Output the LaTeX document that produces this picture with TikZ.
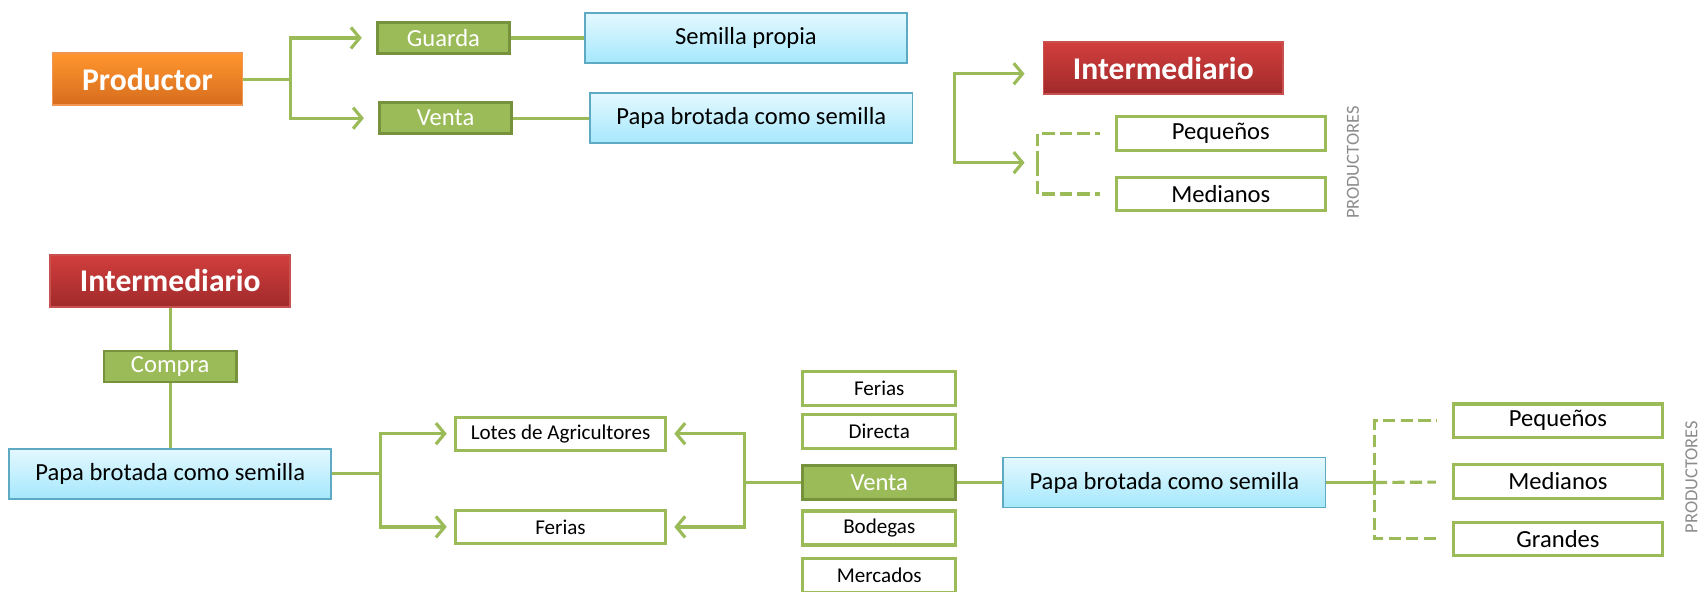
\documentclass[tikz,border=0pt]{standalone}
\usepackage{fontspec}
\setmainfont{Carlito}
\usetikzlibrary{arrows.meta}

\definecolor{leaf}{RGB}{155,187,89}
\definecolor{leafdark}{RGB}{118,146,60}
\definecolor{orangetop}{RGB}{255,150,45}
\definecolor{orangebot}{RGB}{215,108,30}
\definecolor{orangeedge}{RGB}{240,150,80}
\definecolor{redtop}{RGB}{210,62,62}
\definecolor{redbot}{RGB}{160,42,42}
\definecolor{rededge}{RGB}{200,80,78}
\definecolor{skytop}{RGB}{228,248,255}
\definecolor{skybot}{RGB}{165,232,252}
\definecolor{skyedge}{RGB}{95,170,195}

\begin{document}
\begin{tikzpicture}[x=0.0217cm,y=-0.0217cm]
\tikzset{
  headbox/.style={rectangle,line width=1pt,minimum height=1.04cm,inner sep=1pt,text=white,font=\fontsize{18}{20}\selectfont\bfseries},
  prodbox/.style={headbox,draw=orangeedge,top color=orangetop,bottom color=orangebot,minimum width=3.80cm},
  interbox/.style={headbox,draw=rededge,top color=redtop,bottom color=redbot,minimum width=4.80cm},
  actbox/.style={rectangle,draw=leafdark,fill=leaf,line width=1.6pt,minimum width=2.65cm,minimum height=0.62cm,inner sep=1pt,text=white,font=\fontsize{14}{16}\selectfont},
  seedbox/.style={rectangle,draw=skyedge,top color=skytop,bottom color=skybot,line width=1pt,minimum width=6.45cm,minimum height=1.0cm,inner sep=1pt,font=\fontsize{14}{16}\selectfont},
  sizebox/.style={rectangle,draw=leaf,fill=white,line width=1.8pt,minimum width=4.19cm,minimum height=0.67cm,inner sep=1pt,font=\fontsize{14}{16}\selectfont},
  placebox/.style={rectangle,draw=leaf,fill=white,line width=1.8pt,minimum width=4.21cm,minimum height=0.66cm,inner sep=1pt,font=\fontsize{12}{14}\selectfont},
  outletbox/.style={placebox,minimum width=3.06cm,minimum height=0.68cm},
  link/.style={draw=leaf,line width=1.8pt,line cap=butt,line join=miter},
  arrowlink/.style={link,-{Straight Barb[length=5pt,width=12pt]}},
  arrowboth/.style={link,{Straight Barb[length=5pt,width=12pt]}-{Straight Barb[length=5pt,width=12pt]}},
  sizelink/.style={link,dash pattern=on 7pt off 3pt},
  sidelabel/.style={rotate=90,text=black!45,font=\fontsize{10.5}{12}\selectfont}
}
\useasboundingbox (0,0) rectangle (1568,546);
\node[prodbox] (n_prod) at (136,73) {Productor};
\node[actbox] (n_guarda) at (409,35) {Guarda};
\node[actbox] (n_venta1) at (411,109) {Venta};
\node[seedbox] (n_propia) at (688,35) {Semilla propia};
\node[seedbox] (n_papa1) at (693,109) {Papa brotada como semilla};
\node[interbox] (n_inter1) at (1073,63) {Intermediario};
\node[sizebox] (n_peq1) at (1126,123) {Pequeños};
\node[sizebox] (n_med1) at (1126,179) {Medianos};
\node[sidelabel] (n_lab1) at (1248,150) {PRODUCTORES};
\node[interbox] (n_inter2) at (157,259) {Intermediario};
\node[actbox] (n_compra) at (157,338) {Compra};
\node[seedbox] (n_papa2) at (157,437) {Papa brotada como semilla};
\node[placebox] (n_lotes) at (517,400) {Lotes de Agricultores};
\node[placebox] (n_ferias1) at (517,486) {Ferias};
\node[outletbox] (n_ferias2) at (811,358) {Ferias};
\node[outletbox] (n_directa) at (811,398) {Directa};
\node[actbox,minimum width=3.06cm,minimum height=0.68cm] (n_venta2) at (811,445) {Venta};
\node[outletbox] (n_bodegas) at (811,487) {Bodegas};
\node[outletbox] (n_mercados) at (811,531) {Mercados};
\node[seedbox] (n_papa3) at (1074,445) {Papa brotada como semilla};
\node[sizebox] (n_peq2) at (1437,388) {Pequeños};
\node[sizebox] (n_med2) at (1437,444) {Medianos};
\node[sizebox] (n_gra2) at (1437,497) {Grandes};
\node[sidelabel] (n_lab2) at (1560,440) {PRODUCTORES};
\coordinate (j_prod) at (268,73);
\coordinate (j_in_top) at (945,68);
\coordinate (j_in_bot) at (945,150);
\coordinate (j_bk_top) at (880,68);
\coordinate (j_bk_bot) at (880,150);
\coordinate (j_sz1) at (957,151);
\coordinate (j_papa2) at (351,437);
\coordinate (j_venta2) at (687,445);
\coordinate (j_sz2) at (1268,445);
\draw[link] (n_prod) -- (j_prod);
\draw[arrowlink,shorten >=8pt] (j_prod) |- (n_guarda);
\draw[arrowlink,shorten >=8pt] (j_prod) |- (n_venta1);
\draw[link] (n_guarda) -- (n_propia);
\draw[link] (n_venta1) -- (n_papa1);
\draw[arrowboth] (j_in_top) -- (j_bk_top) -- (j_bk_bot) -- (j_in_bot);
\draw[sizelink,shorten >=8pt] (j_sz1) |- (n_peq1);
\draw[sizelink,shorten >=8pt] (j_sz1) |- (n_med1);
\draw[link] (n_inter2) -- (n_compra);
\draw[link] (n_compra) -- (n_papa2);
\draw[link] (n_papa2) -- (j_papa2);
\draw[arrowlink,shorten >=4pt] (j_papa2) |- (n_lotes);
\draw[arrowlink,shorten >=4pt] (j_papa2) |- (n_ferias1);
\draw[link] (n_venta2) -- (j_venta2);
\draw[arrowlink,shorten >=4pt] (j_venta2) |- (n_lotes);
\draw[arrowlink,shorten >=4pt] (j_venta2) |- (n_ferias1);
\draw[link] (n_venta2) -- (n_papa3);
\draw[link] (n_papa3) -- (j_sz2);
\draw[sizelink,shorten >=9pt] (j_sz2) |- (n_peq2);
\draw[sizelink,shorten >=9pt] (j_sz2) -- (n_med2);
\draw[sizelink,shorten >=9pt] (j_sz2) |- (n_gra2);
\end{tikzpicture}
\end{document}
